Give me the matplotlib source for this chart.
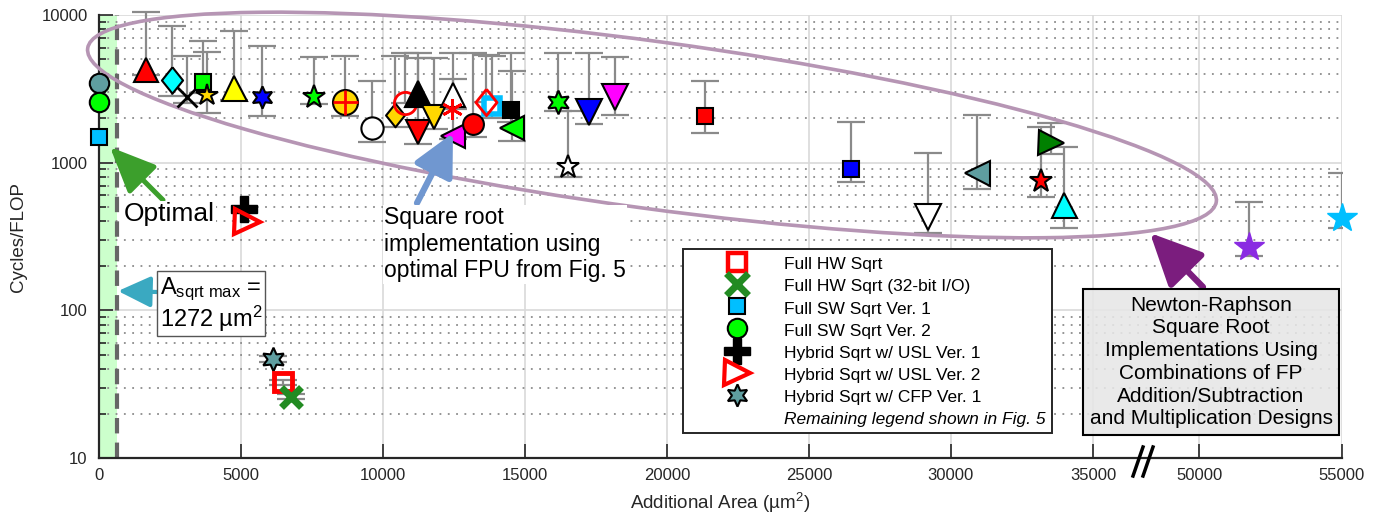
import numpy as np
import matplotlib
matplotlib.use("Agg")
import matplotlib.pyplot as plt
from matplotlib.lines import Line2D
from matplotlib.patches import Ellipse

plt.rcParams['font.family'] = ['Liberation Sans', 'DejaVu Sans']
plt.rcParams['mathtext.fontset'] = 'custom'
plt.rcParams['mathtext.rm'] = 'Liberation Sans'
plt.rcParams['mathtext.it'] = 'Liberation Sans:italic'

# additional area (um^2), cycles/FLOP and error bar ends
area = [0, 0, 0, 1665, 2570, 3120, 3680, 3800, 4770, 5740,
        7590, 8670, 9610, 10430, 10780, 11250, 11250, 11800, 12480, 12430,
        12480, 13190, 13830, 13620, 14500, 14540, 16160, 16510, 17270, 18170,
        21340, 26500, 29190, 30920, 33510, 33170, 33980, 51750, 55000,
        5125, 5210, 6146, 6500, 6770]
cycles = [3460, 2570, 1490, 4240, 3620, 2790, 3530, 2870, 3180, 2790,
          2790, 2580, 1720, 2100, 2550, 2940, 1620, 2030, 2870, 2310,
          1510, 1820, 2420, 2580, 2270, 1730, 2560, 929, 2210, 2790,
          2070, 905, 430, 855, 1350, 750, 516, 268, 422,
          483, 398, 46.8, 32.5, 26.0]
err_lo = [np.nan, np.nan, np.nan, 3900, 2840, 2520, 2960, 2180, 2660, 2070,
          2500, 2070, 1390, 1750, 2550, 2400, 1340, 1700, 2300, np.nan,
          1440, 1500, 2000, 2580, 1900, 1400, 2245, 803, 1840, 2100,
          1580, 736, 332, 662, 1143, 587, 362, 234, 362,
          np.nan, np.nan, 44.5, 31.0, 25.0]
err_hi = [np.nan, np.nan, np.nan, 10400, 8450, 5270, 6680, 5580, 7780, 6180,
          5210, 5270, 3570, 5270, 5500, 5500, 5100, 5080, 5560, np.nan,
          3700, 5560, 5300, 5400, 5560, 4190, 5560, 2230, 5560, 5210,
          3590, 1873, 1157, 2100, 1870, 1750, 1283, 543, 855,
          np.nan, np.nan, 49.0, 33.5, 27.0]

x_ticks = [0, 5000, 10000, 15000, 20000, 25000, 30000, 35000, 50000, 55000]
y_ticks = [10, 100, 1000, 10000]

legend_labels = ['Full HW Sqrt', 'Full HW Sqrt (32-bit I/O)', 'Full SW Sqrt Ver. 1',
                 'Full SW Sqrt Ver. 2', 'Hybrid Sqrt w/ USL Ver. 1',
                 'Hybrid Sqrt w/ USL Ver. 2', 'Hybrid Sqrt w/ CFP Ver. 1',
                 'Remaining legend shown in Fig. 5']

# marker styles
DIA = [(0, 1), (0.8, 0), (0, -1), (-0.8, 0), (0, 1)]
HEX = (6, 1, 0)
AST = (6, 2, 0)
markers = ['o', 'o', 's', '^', DIA, 'x', 's', '*', '^', HEX,
           '*', 'o', 'o', DIA, 'o', '^', 'v', 'v', '^', AST,
           '<', 'o', 's', DIA, 's', '<', HEX, '*', 'v', 'v',
           's', 's', 'v', '<', '>', '*', '^', '*', '*',
           'P', '>', HEX, 's', 'x']
faces = ['cadetblue', 'lime', 'deepskyblue', 'red', 'cyan', 'k', 'lime', 'gold', 'yellow', 'blue',
         'lime', 'gold', 'white', 'gold', 'none', 'black', 'red', 'gold', 'white', 'red',
         'magenta', 'red', 'white', 'none', 'black', 'lime', 'lime', 'white', 'blue', 'magenta',
         'red', 'blue', 'white', 'cadetblue', 'green', 'red', 'cyan', 'blueviolet', 'deepskyblue',
         'k', 'none', 'cadetblue', 'none', 'forestgreen']
edges = ['k', 'k', 'k', 'k', 'k', 'k', 'k', 'k', 'k', 'k',
         'k', 'k', 'k', 'k', 'red', 'k', 'k', 'k', 'k', 'red',
         'k', 'k', 'deepskyblue', 'red', 'k', 'k', 'k', 'k', 'k', 'k',
         'k', 'k', 'k', 'k', 'k', 'k', 'k', 'blueviolet', 'deepskyblue',
         'k', 'red', 'k', 'red', 'forestgreen']
sizes = [14, 14, 12, 17, 19, 14, 12, 16, 18, 16,
         17, 18, 16, 17, 16, 19, 17, 17, 17, 15,
         17, 15, 11, 19, 12, 17, 17, 17, 19, 19,
         12, 12, 19, 18, 18, 17, 18, 22, 22,
         19, 18, 17, 13, 15]
widths = [1.5, 1.5, 1.5, 1.5, 1.5, 2, 1.5, 1.5, 1.5, 1.5,
          1.5, 1.5, 1.5, 1.5, 2, 1.5, 1.5, 1.5, 1.5, 2,
          1.5, 1.5, 4, 2, 1.5, 1.5, 1.5, 1.5, 1.5, 1.5,
          1.5, 1.5, 1.5, 1.5, 1.5, 1.5, 1.5, 1, 1,
          1, 3, 1.5, 3.5, 5]


def fwd(x):
    x = np.asarray(x, dtype=float)
    return np.where(x <= 35000, x, np.where(x >= 50000, x - 11250, 35000 + (x - 35000) * 0.25))


def inv(u):
    u = np.asarray(u, dtype=float)
    return np.where(u <= 35000, u, np.where(u >= 38750, u + 11250, 35000 + (u - 35000) * 4))


def px(x, y):
    # image pixel -> inches from bottom left
    return (x / 100.0, (525 - y) / 100.0)


fig = plt.figure(figsize=(13.8, 5.25), dpi=100)
ax = fig.add_axes([98.7 / 1380, 67 / 525, (1341.5 - 98.7) / 1380, (458 - 15) / 525])
it = fig.dpi_scale_trans

ax.set_xscale('function', functions=(fwd, inv))
ax.set_yscale('log')
ax.set_xlim(0, 55000)
ax.set_ylim(10, 10000)
ax.set_xticks(x_ticks)
ax.set_xticklabels([str(t) for t in x_ticks])
ax.set_yticks(y_ticks)
ax.set_yticklabels([str(t) for t in y_ticks])
ax.yaxis.set_minor_formatter(matplotlib.ticker.NullFormatter())

ax.set_axisbelow(True)
ax.grid(True, which='major', color='#d9d9d9', lw=1.2)
ax.yaxis.grid(True, which='minor', color='#8c8c8c', lw=1.3, linestyle=(0, (1, 3.6)))
for s in ['top', 'right']:
    ax.spines[s].set_visible(False)
for s in ['left', 'bottom']:
    ax.spines[s].set_color('#262626')
    ax.spines[s].set_linewidth(1.6)
ax.tick_params(which='both', direction='in', color='#262626', labelcolor='#262626',
               labelsize=12, width=1.2)
ax.tick_params(which='major', length=10)
ax.tick_params(which='minor', length=5)
ax.tick_params(axis='y', pad=8)
ax.tick_params(axis='x', pad=7)

ax.set_xlabel('Additional Area (µm$^2$)', fontsize=13.5, color='#262626', labelpad=6)
ax.set_ylabel('Cycles/FLOP', fontsize=13.5, color='#262626', labelpad=10)

# optimal region
ax.axvspan(0, 650, color='#ccffcc', zorder=0.5, lw=0)
ax.axvline(650, color='#666666', lw=3, dashes=(3.7, 2.2), zorder=1)

# error bars
for i in range(len(area)):
    if np.isnan(err_lo[i]):
        continue
    ax.errorbar([area[i]], [cycles[i]],
                yerr=[[cycles[i] - err_lo[i]], [err_hi[i] - cycles[i]]],
                fmt='none', ecolor='#8a8a8a', elinewidth=1.6, capsize=10, capthick=1.6,
                zorder=2, clip_on=(i == 38))

# markers
for i in range(len(area)):
    ax.plot([area[i]], [cycles[i]], linestyle='none', marker=markers[i], ms=sizes[i],
            mfc=faces[i], mec=edges[i], mew=widths[i], zorder=4 + i * 0.01, clip_on=False)
    if i == 11:
        ax.plot([area[i]], [cycles[i]], linestyle='none', marker='+', ms=18, mec='red',
                mew=2, zorder=4 + i * 0.01 + 0.005, clip_on=False)

# ellipse around Newton-Raphson designs
ell = Ellipse(px(652, 125), 11.39, 1.67, angle=-7.74, transform=it, fill=False,
              edgecolor='#b695b4', lw=2.6, zorder=3.5, clip_on=False)
ax.add_patch(ell)


def arrow(tail, tip, color, lw, hl, hw, ms):
    ax.annotate('', xy=px(*tip), xycoords=it, xytext=px(*tail), textcoords=it,
                arrowprops=dict(arrowstyle='-|>,head_length=%g,head_width=%g' % (hl, hw),
                                color=color, lw=lw, mutation_scale=ms,
                                shrinkA=0, shrinkB=0), zorder=6)


arrow((163, 200), (110, 147), '#3c9f2c', 3.6, 0.8, 0.35, 35)
arrow((417, 203), (453, 133), '#7097d0', 4.5, 0.8, 0.4, 32)
arrow((157, 292), (118, 291), '#3aa9c1', 3, 0.8, 0.38, 25)
arrow((1203, 287), (1150, 233), '#7b1d7e', 4.5, 0.8, 0.38, 40)

fig.text(*px(124, 214), 'Optimal', transform=it, fontsize=19, ha='left', va='center',
         bbox=dict(facecolor='white', edgecolor='none', pad=1), zorder=7)
fig.text(*px(384, 206), 'Square root\nimplementation using\noptimal FPU from Fig. 5',
         transform=it, fontsize=16.5, ha='left', va='top', linespacing=1.2,
         bbox=dict(facecolor='white', edgecolor='none', pad=1), zorder=7)
fig.text(*px(160, 276), 'A$_{\\mathregular{sqrt\\ max}}$ =\n1272 µm$^2$', transform=it,
         fontsize=17, ha='left', va='top', linespacing=1.0,
         bbox=dict(boxstyle='square,pad=0.12', facecolor='white', edgecolor='#555555', lw=1),
         zorder=7)
fig.text(*px(1211, 362), 'Newton-Raphson\nSquare Root\nImplementations Using\n'
         'Combinations of FP\nAddition/Subtraction\nand Multiplication Designs',
         transform=it, fontsize=15, ha='center', va='center', linespacing=1.25,
         bbox=dict(boxstyle='square,pad=0.3', facecolor=(0.9, 0.9, 0.9, 0.88),
                   edgecolor='k', lw=1.5), zorder=7)

# axis break marks
for dx in (0, 10):
    fig.add_artist(Line2D([(1133 + dx) / 100, (1143 + dx) / 100],
                          [(525 - 476) / 100, (525 - 447) / 100],
                          transform=it, color='k', lw=2.5))

# legend
handles = [
    Line2D([], [], ls='none', marker='s', ms=13, mfc='none', mec='red', mew=3.2),
    Line2D([], [], ls='none', marker='x', ms=16, mec='forestgreen', mew=5),
    Line2D([], [], ls='none', marker='s', ms=11.5, mfc='deepskyblue', mec='k', mew=1.5),
    Line2D([], [], ls='none', marker='o', ms=14, mfc='lime', mec='k', mew=1.5),
    Line2D([], [], ls='none', marker='P', ms=19, mfc='k', mec='k', mew=1),
    Line2D([], [], ls='none', marker='>', ms=18, mfc='none', mec='red', mew=3),
    Line2D([], [], ls='none', marker=HEX, ms=16, mfc='cadetblue', mec='k', mew=1.5),
    Line2D([], [], ls='none'),
]
leg = ax.legend(handles, legend_labels, loc='upper left', bbox_to_anchor=px(682.7, 249),
                bbox_transform=it, borderaxespad=0, fontsize=12.5, fancybox=False,
                edgecolor='#262626', framealpha=1, borderpad=0.35, labelspacing=0.28,
                handlelength=5.5, handletextpad=0.0, handleheight=1.1, numpoints=1)
leg.get_frame().set_linewidth(1.4)
leg.set_zorder(8)
leg.get_texts()[-1].set_style('italic')

fig.savefig('out.png', dpi=100)
